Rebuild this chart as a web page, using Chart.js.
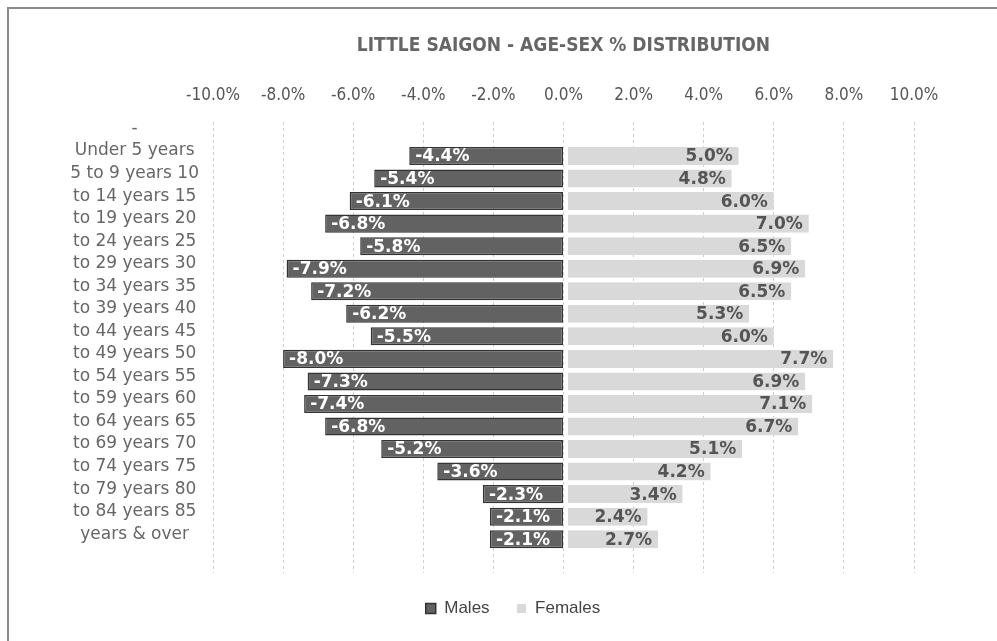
<!DOCTYPE html>
<html>
<head>
<meta charset="utf-8">
<script src="https://cdn.jsdelivr.net/npm/chart.js"></script>
<style>
  html, body { margin: 0; padding: 0; background: #fff; overflow: hidden; }
  #wrap { position: relative; width: 997px; height: 641px; }
  #frame { position: absolute; left: 7px; top: 7px; width: 1000px; height: 700px;
           border-left: 2px solid #8a8a8a; border-top: 2px solid #8a8a8a; pointer-events: none; }
</style>
</head>
<body>
<div id="wrap">
  <canvas id="pyramid" width="997" height="641"></canvas>
  <div id="frame"></div>
</div>
<script>
// Age groups (labels as they appear, wrapped oddly in the original)
const ageGroups = ['Under 5 years', '5 to 9 years 10', 'to 14 years 15', 'to 19 years 20',
  'to 24 years 25', 'to 29 years 30', 'to 34 years 35', 'to 39 years 40', 'to 44 years 45',
  'to 49 years 50', 'to 54 years 55', 'to 59 years 60', 'to 64 years 65', 'to 69 years 70',
  'to 74 years 75', 'to 79 years 80', 'to 84 years 85', 'years & over'];
const males = [-4.4, -5.4, -6.1, -6.8, -5.8, -7.9, -7.2, -6.2, -5.5, -8.0, -7.3, -7.4, -6.8, -5.2, -3.6, -2.3, -2.1, -2.1];
const females = [5.0, 4.8, 6.0, 7.0, 6.5, 6.9, 6.5, 5.3, 6.0, 7.7, 6.9, 7.1, 6.7, 5.1, 4.2, 3.4, 2.4, 2.7];
const xTicks = [-10, -8, -6, -4, -2, 0, 2, 4, 6, 8, 10];

// the original sheet has an empty header row and an empty row at the end
const rowLabels = ['-', ...ageGroups, ''];
const pad = arr => [null, ...arr, null];

const condensed = '"DejaVu Sans Condensed", "Roboto", sans-serif';

// value labels at the outer end of each bar
const barLabels = {
  id: 'barLabels',
  afterDatasetsDraw(chart) {
    const ctx = chart.ctx;
    ctx.save();
    ctx.font = 'bold 17px "DejaVu Sans"';
    ctx.textBaseline = 'middle';
    chart.data.datasets.forEach((ds, i) => {
      chart.getDatasetMeta(i).data.forEach((bar, j) => {
        const v = ds.data[j];
        if (v == null) return;
        const txt = v.toFixed(1) + '%';
        if (v < 0) {
          ctx.textAlign = 'left';
          ctx.fillStyle = '#ffffff';
          ctx.fillText(txt, bar.x + 6, bar.y + 1);
        } else {
          ctx.textAlign = 'right';
          ctx.fillStyle = '#555555';
          ctx.fillText(txt, bar.x - 6, bar.y + 1);
        }
      });
    });
    ctx.restore();
  }
};

// the legend sits a bit right of the canvas centre in the original
const nudgeLegend = {
  id: 'nudgeLegend',
  afterLayout(chart) {
    chart.legend.left += 36;
    chart.legend.right += 36;
  }
};

new Chart(document.getElementById('pyramid').getContext('2d'), {
  type: 'bar',
  data: {
    labels: rowLabels,
    datasets: [{
      label: 'Males',
      data: pad(males),
      backgroundColor: '#626262',
      borderColor: '#333333',
      borderWidth: 1.5,
      borderSkipped: false
    }, {
      label: 'Females',
      data: pad(females),
      backgroundColor: '#d9d9d9',
      borderColor: '#ffffff',
      borderWidth: { left: 4, top: 0, right: 0, bottom: 0 },
      borderSkipped: false
    }]
  },
  options: {
    indexAxis: 'y',
    responsive: false,
    animation: false,
    layout: { padding: { top: 35, left: 40, right: 83, bottom: 14 } },
    barPercentage: 0.8,
    categoryPercentage: 1,
    scales: {
      x: {
        position: 'top',
        stacked: true,
        min: -10,
        max: 10,
        afterBuildTicks: scale => { scale.ticks = xTicks.map(v => ({ value: v })); },
        ticks: {
          padding: 16,
          color: '#555',
          font: { family: condensed, size: 17 },
          callback: v => v.toFixed(1) + '%'
        },
        grid: { color: '#cfcfcf', drawTicks: false },
        border: { display: false, dash: [3, 3] }
      },
      y: {
        stacked: true,
        afterFit: scale => { scale.width = 173; },
        ticks: {
          padding: 14,
          crossAlign: 'center',
          labelOffset: -5,
          color: '#666',
          font: { family: '"DejaVu Sans"', size: 17 },
          autoSkip: false
        },
        grid: { display: false, drawTicks: false },
        border: { display: false }
      }
    },
    plugins: {
      title: {
        display: true,
        fullSize: false,
        text: 'LITTLE SAIGON - AGE-SEX % DISTRIBUTION',
        color: '#666',
        font: { family: condensed, size: 19, weight: 'bold' },
        padding: { top: 0, bottom: 12 }
      },
      legend: {
        position: 'bottom',
        labels: {
          boxWidth: 10,
          boxHeight: 10,
          padding: 27,
          color: '#444',
          font: { family: '"Liberation Sans"', size: 17 }
        }
      },
      tooltip: { enabled: false }
    }
  },
  plugins: [barLabels, nudgeLegend]
});
</script>
</body>
</html>
